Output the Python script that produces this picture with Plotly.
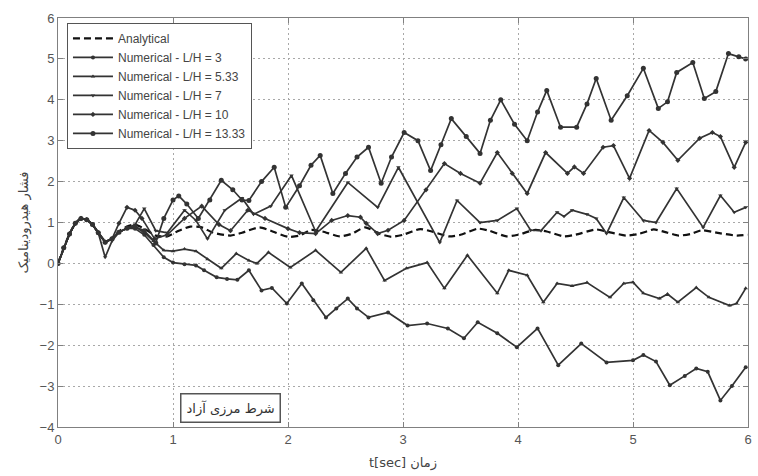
import plotly.graph_objects as go

# ---- data ----
t_an = [0, 0.05, 0.1, 0.15, 0.2, 0.25, 0.3, 0.35, 0.41, 0.47, 0.53, 0.6, 0.67, 0.75, 0.85, 0.95, 1.05, 1.15, 1.25, 1.35, 1.5, 1.6, 1.75, 1.85, 2.0, 2.1, 2.2, 2.3, 2.45, 2.55, 2.67, 2.8, 2.9, 3.0, 3.15, 3.25, 3.4, 3.5, 3.65, 3.75, 3.9, 4.0, 4.15, 4.25, 4.4, 4.5, 4.68, 4.8, 4.94, 5.05, 5.18, 5.3, 5.4, 5.5, 5.6, 5.75, 5.9, 6.0]
y_an = [0, 0.38, 0.72, 0.98, 1.1, 1.07, 0.95, 0.75, 0.55, 0.6, 0.78, 0.9, 0.95, 0.85, 0.68, 0.66, 0.8, 0.9, 0.88, 0.75, 0.68, 0.75, 0.88, 0.8, 0.65, 0.68, 0.82, 0.78, 0.66, 0.72, 0.88, 0.72, 0.65, 0.7, 0.84, 0.78, 0.66, 0.7, 0.85, 0.8, 0.66, 0.7, 0.82, 0.78, 0.66, 0.7, 0.83, 0.76, 0.68, 0.72, 0.83, 0.75, 0.68, 0.72, 0.81, 0.74, 0.68, 0.7]

t_lh3 = [0, 0.05, 0.1, 0.15, 0.2, 0.25, 0.3, 0.35, 0.41, 0.47, 0.53, 0.6, 0.67, 0.75, 0.83, 0.92, 1.0, 1.1, 1.2, 1.27, 1.38, 1.47, 1.56, 1.66, 1.77, 1.86, 1.99, 2.12, 2.22, 2.33, 2.42, 2.52, 2.6, 2.7, 2.87, 3.04, 3.21, 3.39, 3.53, 3.65, 3.82, 3.99, 4.17, 4.35, 4.55, 4.77, 5.0, 5.09, 5.2, 5.32, 5.45, 5.55, 5.65, 5.76, 5.86, 5.98]
y_lh3 = [0, 0.38, 0.72, 0.98, 1.1, 1.07, 0.95, 0.75, 0.52, 0.6, 0.76, 0.86, 0.85, 0.7, 0.45, 0.15, 0.02, -0.02, -0.05, -0.17, -0.34, -0.38, -0.4, -0.17, -0.66, -0.6, -0.98, -0.49, -0.9, -1.32, -1.1, -0.86, -1.1, -1.32, -1.2, -1.52, -1.47, -1.59, -1.83, -1.44, -1.71, -2.05, -1.59, -2.49, -1.96, -2.42, -2.37, -2.24, -2.4, -2.98, -2.75, -2.57, -2.65, -3.35, -3.0, -2.54]

t_lh533 = [0, 0.05, 0.1, 0.15, 0.2, 0.25, 0.3, 0.35, 0.41, 0.47, 0.53, 0.6, 0.67, 0.75, 0.83, 0.92, 1.0, 1.1, 1.2, 1.3, 1.42, 1.55, 1.66, 1.73, 1.83, 2.02, 2.24, 2.46, 2.68, 2.84, 3.03, 3.21, 3.36, 3.56, 3.82, 3.92, 4.08, 4.22, 4.34, 4.47, 4.6, 4.8, 4.92, 5.0, 5.09, 5.23, 5.3, 5.39, 5.55, 5.66, 5.84, 5.9, 5.98]
y_lh533 = [0, 0.38, 0.72, 0.98, 1.1, 1.07, 0.95, 0.75, 0.52, 0.6, 0.76, 0.86, 0.9, 0.75, 0.55, 0.32, 0.3, 0.35, 0.3, 0.1, -0.12, 0.24, 0.07, 0.0, 0.27, -0.1, 0.32, -0.22, 0.37, -0.42, -0.12, 0.02, -0.61, 0.2, -0.73, -0.17, -0.29, -0.95, -0.49, -0.55, -0.47, -0.83, -0.49, -0.46, -0.73, -0.86, -0.75, -0.95, -0.59, -0.83, -1.03, -0.98, -0.61]

t_lh7 = [0, 0.05, 0.1, 0.15, 0.2, 0.25, 0.3, 0.35, 0.41, 0.47, 0.53, 0.6, 0.67, 0.75, 0.85, 0.95, 1.1, 1.2, 1.3, 1.45, 1.6, 1.7, 1.85, 2.03, 2.24, 2.52, 2.78, 2.96, 3.32, 3.47, 3.67, 3.82, 3.99, 4.11, 4.2, 4.34, 4.4, 4.47, 4.6, 4.68, 4.77, 4.92, 5.09, 5.2, 5.38, 5.61, 5.76, 5.88, 5.98]
y_lh7 = [0, 0.38, 0.72, 0.98, 1.1, 1.07, 0.95, 0.75, 0.15, 0.55, 0.76, 0.86, 0.95, 1.34, 0.8, 0.75, 1.3, 1.05, 0.6, 1.3, 1.6, 1.2, 1.4, 2.15, 0.78, 1.98, 1.37, 2.35, 0.51, 1.54, 1.0, 1.05, 1.34, 0.81, 0.8, 1.25, 1.15, 1.3, 1.2, 1.1, 0.73, 1.61, 1.05, 1.0, 1.83, 0.88, 1.66, 1.25, 1.37]

t_lh10 = [0, 0.05, 0.1, 0.15, 0.2, 0.25, 0.3, 0.35, 0.41, 0.47, 0.53, 0.6, 0.67, 0.73, 0.84, 0.95, 1.1, 1.25, 1.4, 1.5, 1.65, 1.8, 2.0, 2.1, 2.24, 2.38, 2.52, 2.63, 2.68, 2.78, 2.87, 3.01, 3.2, 3.36, 3.5, 3.67, 3.82, 3.95, 4.08, 4.24, 4.43, 4.49, 4.57, 4.74, 4.83, 4.97, 5.14, 5.26, 5.39, 5.58, 5.69, 5.76, 5.88, 5.98]
y_lh10 = [0, 0.38, 0.72, 0.98, 1.1, 1.07, 0.95, 0.75, 0.52, 0.6, 0.98, 1.37, 1.3, 1.1, 0.6, 0.7, 1.1, 1.4, 0.95, 0.8, 1.3, 1.1, 0.85, 0.75, 0.73, 1.05, 1.17, 1.13, 0.98, 0.73, 0.81, 1.05, 1.8, 2.44, 2.2, 1.96, 2.71, 2.2, 1.71, 2.71, 2.2, 2.36, 2.2, 2.84, 2.88, 2.08, 3.25, 2.96, 2.52, 3.06, 3.2, 3.1, 2.35, 2.96]

t_lh1333 = [0, 0.05, 0.1, 0.15, 0.2, 0.25, 0.3, 0.35, 0.41, 0.47, 0.53, 0.6, 0.67, 0.75, 0.85, 0.92, 1.0, 1.05, 1.12, 1.22, 1.32, 1.42, 1.52, 1.6, 1.66, 1.77, 1.88, 1.98, 2.1, 2.2, 2.28, 2.39, 2.5, 2.6, 2.7, 2.81, 2.9, 3.01, 3.13, 3.24, 3.33, 3.42, 3.55, 3.67, 3.76, 3.85, 3.97, 4.08, 4.17, 4.25, 4.37, 4.51, 4.6, 4.68, 4.81, 4.95, 5.09, 5.22, 5.3, 5.38, 5.52, 5.62, 5.72, 5.83, 5.92, 5.98]
y_lh1333 = [0, 0.38, 0.72, 0.98, 1.1, 1.07, 0.95, 0.75, 0.52, 0.6, 0.76, 0.86, 0.9, 0.8, 0.5, 1.1, 1.55, 1.65, 1.45, 1.1, 1.55, 2.03, 1.8, 1.55, 1.54, 2.0, 2.35, 1.37, 1.9, 2.4, 2.64, 1.71, 2.2, 2.6, 2.84, 1.96, 2.6, 3.2, 3.0, 2.27, 2.9, 3.54, 3.1, 2.69, 3.5, 4.0, 3.4, 3.0, 3.7, 4.23, 3.33, 3.33, 3.9, 4.52, 3.5, 4.1, 4.77, 3.79, 3.95, 4.67, 4.91, 4.03, 4.2, 5.13, 5.05, 5.0]

numerical = [
    ("Numerical - L/H = 3", t_lh3, y_lh3, "circle", 4),
    ("Numerical - L/H = 5.33", t_lh533, y_lh533, "triangle-up", 4),
    ("Numerical - L/H = 7", t_lh7, y_lh7, "triangle-down", 4),
    ("Numerical - L/H = 10", t_lh10, y_lh10, "diamond", 4),
    ("Numerical - L/H = 13.33", t_lh1333, y_lh1333, "circle", 5),
]

x_ticks = [0, 1, 2, 3, 4, 5, 6]
y_ticks = [-4, -3, -2, -1, 0, 1, 2, 3, 4, 5, 6]

fig = go.Figure()
fig.add_trace(go.Scatter(x=t_an, y=y_an, mode="lines", name="Analytical",
                         line=dict(color="#111111", width=2.2, dash="7px,4px", shape="spline", smoothing=0.6)))
for name, tx, ty, sym, ms in numerical:
    fig.add_trace(go.Scatter(x=tx, y=ty, mode="lines+markers", name=name,
                             line=dict(color="#333333", width=1.7),
                             marker=dict(symbol=sym, size=ms, color="#333333")))

axis_common = dict(showline=True, linecolor="#808080", linewidth=1, mirror="ticks",
                   ticks="inside", ticklen=5, tickcolor="#808080",
                   showgrid=True, gridcolor="#a8a8a8", griddash="2px,3px", gridwidth=1,
                   zeroline=False,
                   tickfont=dict(family="Liberation Sans, Arial", size=13, color="#555555"))

fig.update_layout(
    width=758, height=476,
    margin=dict(l=58, r=6, t=18, b=49),
    paper_bgcolor="white", plot_bgcolor="white",
    showlegend=True,
    legend=dict(x=0.013, y=0.988, xanchor="left", yanchor="top",
                bgcolor="white", bordercolor="#555555", borderwidth=1,
                font=dict(family="Liberation Sans, Arial", size=12, color="#444444"),
                tracegroupgap=0, itemwidth=40),
    xaxis=dict(range=[0, 6], tickvals=x_ticks,
               title=dict(text="t[sec] زمان", standoff=12,
                          font=dict(family="DejaVu Sans", size=13, color="#444444")),
               **axis_common),
    yaxis=dict(range=[-4, 6], tickvals=y_ticks,
               title=dict(text="فشار هیدرودینامیک", standoff=8,
                          font=dict(family="DejaVu Sans", size=13, color="#444444")),
               **axis_common),
    annotations=[dict(x=0.25, y=0.046, xref="paper", yref="paper",
                      xanchor="center", yanchor="middle",
                      text="شرط مرزی آزاد", showarrow=False,
                      font=dict(family="DejaVu Sans", size=13, color="#333333"),
                      bordercolor="#555555", borderwidth=1.5, borderpad=5, bgcolor="white")],
)

fig.write_html("out.html")
